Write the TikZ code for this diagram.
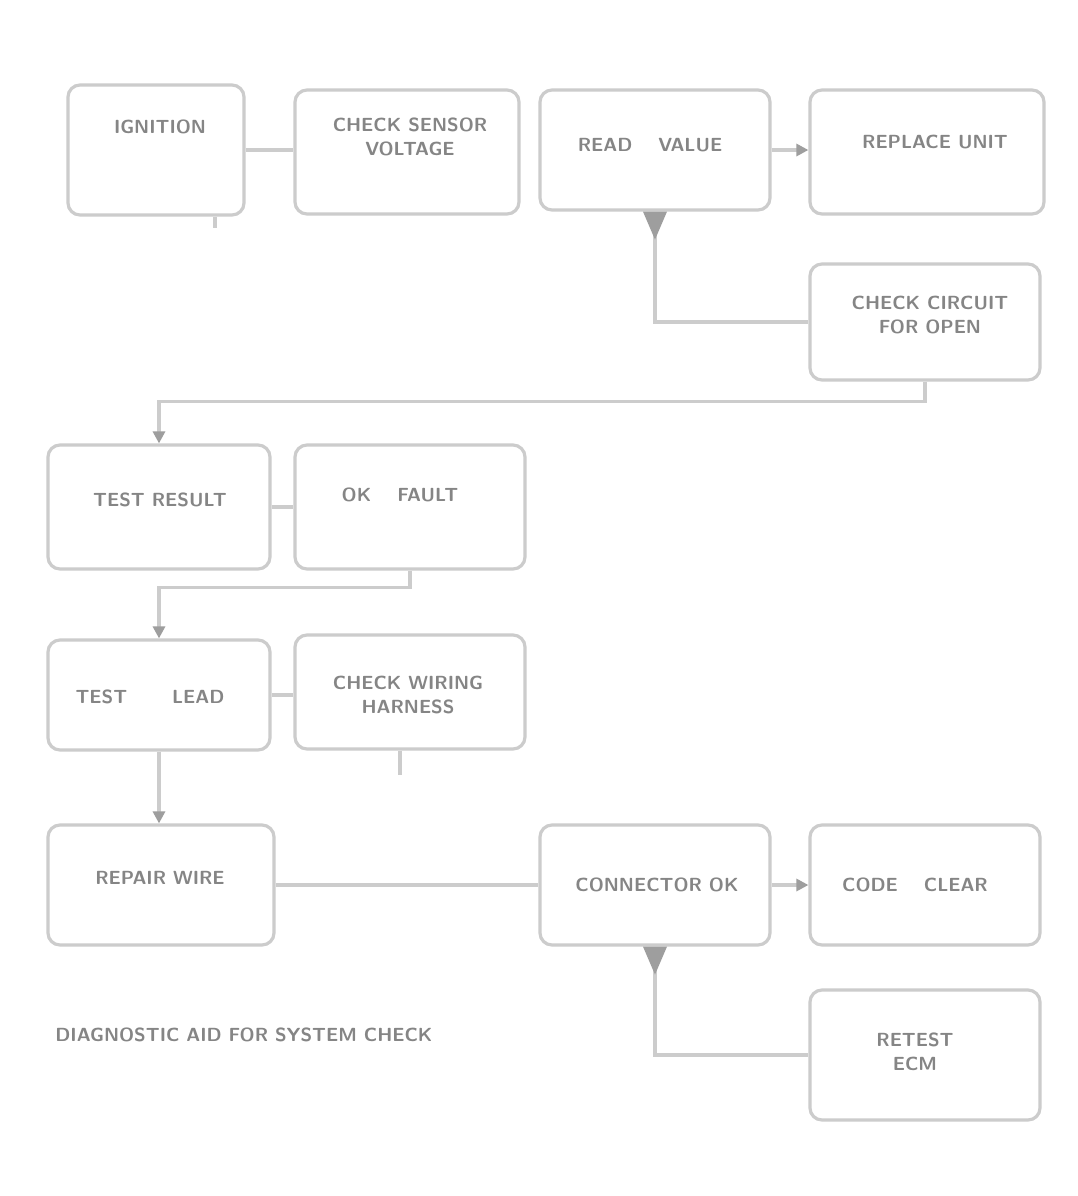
\documentclass[tikz,border=0pt]{standalone}
\usetikzlibrary{arrows.meta}
\begin{document}
\begin{tikzpicture}[x=0.5pt,y=-0.5pt,
  box/.style={draw=black!20,line width=1.6pt,rounded corners=6pt,fill=white,inner sep=0pt},
  wire/.style={draw=black!20,line width=1.6pt},
  arr/.style={wire,-{Triangle[length=6pt,width=6pt,color=black!38]}},
  lbl/.style={text=black!48,font=\sffamily\bfseries\fontsize{9.5}{12}\selectfont,align=center,inner sep=0pt}]
\useasboundingbox (0,0) rectangle (1078,1196);
\fill[white] (0,0) rectangle (1078,1196);
% boxes
\node[box,minimum width=88pt,minimum height=65pt] (b1) at (156,150) {};
\node[box,minimum width=112pt,minimum height=62pt] (b2) at (407,152) {};
\node[box,minimum width=115pt,minimum height=60pt] (b3) at (655,150) {};
\node[box,minimum width=117pt,minimum height=62pt] (b4) at (927,152) {};
\node[box,minimum width=115pt,minimum height=58pt] (b5) at (925,322) {};
\node[box,minimum width=111pt,minimum height=62pt] (b6) at (159,507) {};
\node[box,minimum width=115pt,minimum height=62pt] (b7) at (410,507) {};
\node[box,minimum width=111pt,minimum height=55pt] (b8) at (159,695) {};
\node[box,minimum width=115pt,minimum height=57pt] (b9) at (410,692) {};
\node[box,minimum width=113pt,minimum height=60pt] (b10) at (161,885) {};
\node[box,minimum width=115pt,minimum height=60pt] (b11) at (655,885) {};
\node[box,minimum width=115pt,minimum height=60pt] (b12) at (925,885) {};
\node[box,minimum width=115pt,minimum height=65pt] (b13) at (925,1055) {};
% labels
\node[lbl] (t1) at (160,127) {IGNITION};
\node[lbl] (t2) at (410,137) {CHECK SENSOR\\VOLTAGE};
\node[lbl] (t3) at (650,145) {READ \quad VALUE};
\node[lbl] (t4) at (935,142) {REPLACE UNIT};
\node[lbl] (t5) at (930,315) {CHECK CIRCUIT\\FOR OPEN};
\node[lbl] (t6) at (160,500) {TEST RESULT};
\node[lbl] (t7) at (400,495) {OK \quad FAULT};
\node[lbl] (t8) at (150,697) {TEST \qquad LEAD};
\node[lbl] (t9) at (408,695) {CHECK WIRING\\HARNESS};
\node[lbl] (t10) at (160,878) {REPAIR WIRE};
\node[lbl] (t11) at (657,885) {CONNECTOR OK};
\node[lbl] (t12) at (915,885) {CODE \quad CLEAR};
\node[lbl] (t13) at (915,1052) {RETEST\\ECM};
\node[lbl,anchor=west] (cap) at (55,1035) {DIAGNOSTIC AID FOR SYSTEM CHECK};
% connectors
\draw[wire] (b1.east) -- (b1.east -| b2.west);
\coordinate (s1) at (215,228);
\draw[wire] (b1.south -| s1) -- (s1);
\draw[arr] (b3.east) -- (b3.east -| b4.west);
\draw[wire] (b3.south) |- (b5.west);
\fill[black!38] ([xshift=-6pt]b3.south) -- ([xshift=6pt]b3.south) -- ([yshift=-14pt]b3.south) -- cycle;
\draw[arr] (b5.south) -- ++(0,20) -| (b6.north);
\draw[wire] (b6.east) -- (b7.west);
\draw[arr] (b7.south) -- ++(0,17) -| (b8.north);
\draw[wire] (b8.east) -- (b8.east -| b9.west);
\coordinate (s2) at (400,775);
\draw[wire] (b9.south -| s2) -- (s2);
\draw[arr] (b8.south) -- (b8.south |- b10.north);
\draw[wire] (b10.east) -- (b11.west);
\draw[arr] (b11.east) -- (b12.west);
\draw[wire] (b11.south) |- (b13.west);
\fill[black!38] ([xshift=-6pt]b11.south) -- ([xshift=6pt]b11.south) -- ([yshift=-14pt]b11.south) -- cycle;
\end{tikzpicture}
\end{document}
